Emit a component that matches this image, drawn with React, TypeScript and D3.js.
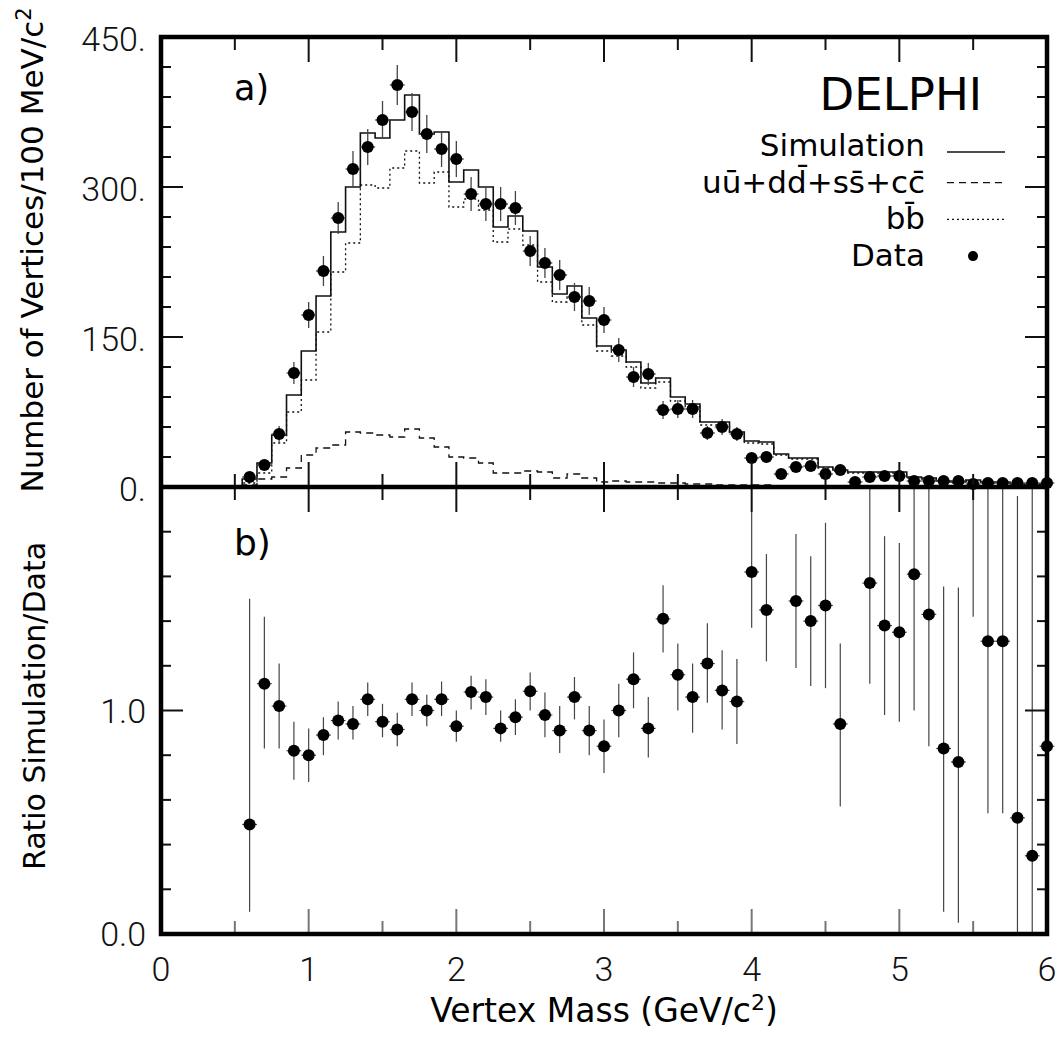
import * as d3 from 'd3';
import React from 'react';

// bin centres (GeV/c^2), bin width 0.1
const massBins = [
  0.6, 0.7, 0.8, 0.9, 1.0, 1.1, 1.2, 1.3, 1.4, 1.5, 1.6, 1.7, 1.8, 1.9, 2.0,
  2.1, 2.2, 2.3, 2.4, 2.5, 2.6, 2.7, 2.8, 2.9, 3.0, 3.1, 3.2, 3.3, 3.4, 3.5,
  3.6, 3.7, 3.8, 3.9, 4.0, 4.1, 4.2, 4.3, 4.4, 4.5, 4.6, 4.7, 4.8, 4.9, 5.0,
  5.1, 5.2, 5.3, 5.4, 5.5, 5.6, 5.7, 5.8, 5.9, 6.0,
];

const dataCounts = [
  10, 22, 53, 114, 172, 216, 269, 318, 340, 367, 402, 375, 353, 338, 328,
  293, 283, 283, 279, 236, 224, 212, 190, 186, 167, 137, 110, 113, 77, 78,
  78, 54, 60, 53, 29, 30, 13, 20, 21, 13, 17, 5, 10, 11, 11,
  6, 6, 6, 6, 3, 4, 4, 4, 4, 4,
];

const dataErrors = [
  4, 5, 8, 11, 13, 15, 16, 18, 18, 19, 20, 19, 19, 18, 18,
  17, 17, 17, 17, 15, 15, 15, 14, 14, 13, 12, 10, 11, 9, 9,
  9, 7, 8, 7, 5, 5, 4, 4, 5, 4, 4, 2, 3, 3, 3,
  2, 2, 2, 2, 2, 2, 2, 2, 2, 2,
];

const simulation = [
  8, 24, 52, 92, 136, 191, 255, 300, 354, 349, 367, 392, 353, 355, 305,
  317, 300, 260, 271, 256, 220, 193, 201, 169, 141, 137, 125, 104, 109, 90,
  83, 65, 65, 55, 46, 45, 33, 29, 29, 20, 17, 15, 15, 15, 15,
  10, 9, 6, 5, 7, 5, 5, 3, 2, 3,
];

const udscSim = [
  2, 8, 10, 19, 32, 39, 42, 55, 54, 52, 50, 58, 49, 40, 30,
  29, 24, 14, 14, 16, 15, 9, 13, 9, 5, 6, 5, 5, 4, 4,
  3, 3, 2, 2, 2, 2, 1, 1, 1, 1, 1, 1, 1, 1, 1,
  1, 1, 0, 0, 0, 0, 0, 0, 0, 0,
];

const bbSim = [
  4, 14, 44, 75, 107, 155, 215, 244, 302, 299, 319, 336, 304, 315, 280,
  288, 277, 245, 258, 242, 205, 185, 190, 162, 136, 131, 120, 99, 105, 86,
  80, 62, 62, 53, 44, 43, 32, 28, 28, 19, 16, 14, 14, 14, 14,
  9, 8, 5, 4, 6, 4, 4, 2, 2, 3,
];

const ratio = [
  0.49, 1.12, 1.02, 0.82, 0.8, 0.89, 0.955, 0.94, 1.05, 0.95, 0.915, 1.05, 1.0, 1.05, 0.93,
  1.083, 1.06, 0.92, 0.97, 1.086, 0.98, 0.91, 1.06, 0.91, 0.84, 1.0, 1.14, 0.92, 1.41, 1.16,
  1.06, 1.21, 1.09, 1.04, 1.62, 1.45, 2.54, 1.49, 1.4, 1.47, 0.94, 3.0, 1.57, 1.38, 1.35,
  1.61, 1.43, 0.83, 0.77, 2.33, 1.31, 1.31, 0.52, 0.35, 0.84,
];

const ratioLow = [
  0.1, 0.83, 0.83, 0.69, 0.68, 0.8, 0.87, 0.87, 0.975, 0.88, 0.84, 0.975, 0.93, 0.975, 0.86,
  1.005, 0.98, 0.86, 0.89, 1.0, 0.88, 0.81, 0.96, 0.8, 0.72, 0.88, 1.01, 0.79, 1.26, 1.0,
  0.9, 1.035, 0.915, 0.85, 1.37, 1.22, 2.05, 1.19, 1.11, 1.1, 0.57, 2.05, 1.12, 0.98, 0.95,
  1.0, 0.84, 0.1, 0.05, 1.42, 0.54, 0.54, 0.0, 0.0, 0.0,
];

const ratioHigh = [
  1.5, 1.42, 1.21, 0.95, 0.92, 0.97, 1.04, 1.02, 1.125, 1.03, 0.99, 1.125, 1.07, 1.13, 1.0,
  1.156, 1.14, 1.0, 1.05, 1.17, 1.08, 1.02, 1.15, 1.02, 0.96, 1.12, 1.26, 1.06, 1.56, 1.3,
  1.21, 1.39, 1.27, 1.23, 1.89, 1.7, 3.0, 1.79, 1.69, 1.84, 1.3, 4.0, 2.2, 1.78, 1.75,
  2.3, 2.1, 1.555, 1.55, 3.2, 2.3, 2.3, 1.96, 2.2, 2.2,
];

const massTicks = [0, 1, 2, 3, 4, 5, 6];
const countTicks = [0, 150, 300, 450];
const countTickLabels = ['0.', '150.', '300.', '450.'];
const ratioTicks = [0, 1];
const ratioTickLabels = ['0.0', '1.0'];

const legendItems = [
  { label: 'Simulation', kind: 'solid' },
  { label: 'u\u016B+dd\u0304+ss\u0304+cc\u0304', kind: 'dashed' },
  { label: 'bb\u0304', kind: 'dotted' },
  { label: 'Data', kind: 'dot' },
];

const left = 161;
const right = 1047;
const top = 37;
const mid = 487;
const bottom = 934;
const halfBin = 0.05;

const labelFont = 'Roboto, "DejaVu Sans", sans-serif';
const titleFont = '"DejaVu Sans", sans-serif';

export default function App() {
  const x = d3.scaleLinear().domain([0, 6]).range([left, right]);
  const yTop = d3.scaleLinear().domain([0, 450]).range([mid, top]);
  const yBot = d3.scaleLinear().domain([0, 2]).range([bottom, mid]);

  function stepPath(vals: number[]) {
    const pts: [number, number][] = [[massBins[0] - halfBin, 0]];
    vals.forEach((v, i) => {
      pts.push([massBins[i] - halfBin, v]);
      pts.push([massBins[i] + halfBin, v]);
    });
    return (
      d3
        .line<[number, number]>()
        .x((d) => x(d[0]))
        .y((d) => yTop(d[1]))(pts) || ''
    );
  }

  const xMinor = d3.range(0, 6.01, 0.5);
  const yTopMinor = d3.range(0, 451, 30);
  const yBotMinor = d3.range(0, 2.01, 0.2);

  const tickColor = '#111';
  const errColor = '#444';

  // x ticks on a horizontal line, dir = +1 pointing down, -1 up
  function xTickMarks(yLine: number, dir: number, key: string, color = tickColor) {
    return xMinor.map((m, i) => {
      const major = Math.abs(m - Math.round(m)) < 1e-6;
      const len = major ? 25 : 13;
      return (
        <line
          key={key + i}
          x1={x(m)}
          x2={x(m)}
          y1={yLine}
          y2={yLine + dir * len}
          stroke={color}
          strokeWidth={2}
        />
      );
    });
  }

  return (
    <svg
      width={1062}
      height={1037}
      style={{ position: 'absolute', left: 0, top: 0, background: '#fff' }}
    >
      <defs>
        <clipPath id='clipTop'>
          <rect x={left} y={top} width={right - left} height={mid - top} />
        </clipPath>
        <clipPath id='clipBot'>
          <rect x={left - 10} y={mid} width={right - left + 20} height={bottom - mid} />
        </clipPath>
      </defs>

      {/* upper panel: histograms */}
      <g clipPath='url(#clipTop)' fill='none' stroke='#111'>
        <path d={stepPath(simulation)} strokeWidth={1.6} />
        <path d={stepPath(udscSim)} strokeWidth={1.3} strokeDasharray='7,5' />
        <path d={stepPath(bbSim)} strokeWidth={1.3} strokeDasharray='2,3' />
      </g>

      {/* upper panel: data */}
      <g>
        {massBins.map((m, i) => (
          <g key={'d' + i}>
            <line
              x1={x(m)}
              x2={x(m)}
              y1={yTop(dataCounts[i] - dataErrors[i])}
              y2={yTop(dataCounts[i] + dataErrors[i])}
              stroke={errColor}
              strokeWidth={1.3}
            />
            <line
              x1={x(m - halfBin)}
              x2={x(m + halfBin)}
              y1={yTop(dataCounts[i])}
              y2={yTop(dataCounts[i])}
              stroke={errColor}
              strokeWidth={1.3}
            />
            <circle cx={x(m)} cy={yTop(dataCounts[i])} r={6} fill='#000' />
          </g>
        ))}
      </g>

      {/* lower panel: ratio */}
      <g clipPath='url(#clipBot)'>
        {massBins.map((m, i) => (
          <g key={'r' + i}>
            <line
              x1={x(m)}
              x2={x(m)}
              y1={yBot(ratioLow[i])}
              y2={yBot(ratioHigh[i])}
              stroke={errColor}
              strokeWidth={1.2}
            />
            <line
              x1={x(m - halfBin)}
              x2={x(m + halfBin)}
              y1={yBot(ratio[i])}
              y2={yBot(ratio[i])}
              stroke={errColor}
              strokeWidth={1.2}
            />
            <circle cx={x(m)} cy={yBot(ratio[i])} r={6} fill='#000' />
          </g>
        ))}
      </g>

      {/* ticks */}
      {xTickMarks(top, 1, 'tt')}
      {xTickMarks(mid, -1, 'mu')}
      {xTickMarks(mid, 1, 'md')}
      {xTickMarks(bottom, -1, 'bb', '#777')}
      {yTopMinor.map((v, i) => {
        const len = v % 150 === 0 ? 22 : 10;
        return (
          <g key={'yt' + i}>
            <line x1={left} x2={left + len} y1={yTop(v)} y2={yTop(v)} stroke={tickColor} strokeWidth={2} />
            <line x1={right} x2={right - len} y1={yTop(v)} y2={yTop(v)} stroke={tickColor} strokeWidth={2} />
          </g>
        );
      })}
      {yBotMinor.map((v, i) => {
        const len = Math.abs(v - Math.round(v)) < 1e-6 ? 22 : 10;
        return (
          <g key={'yb' + i}>
            <line x1={left} x2={left + len} y1={yBot(v)} y2={yBot(v)} stroke={tickColor} strokeWidth={2} />
            <line x1={right} x2={right - len} y1={yBot(v)} y2={yBot(v)} stroke={tickColor} strokeWidth={2} />
          </g>
        );
      })}

      {/* frame */}
      <rect
        x={left}
        y={top}
        width={right - left}
        height={bottom - top}
        fill='none'
        stroke='#000'
        strokeWidth={4.5}
      />
      <line x1={left} x2={right} y1={mid} y2={mid} stroke='#000' strokeWidth={4.5} />

      {/* tick labels */}
      <g fontFamily={labelFont} fontWeight={300} fontSize={34} fill='#111'>
        {countTicks.map((v, i) => (
          <text key={'ct' + i} x={146} y={yTop(v) + 2} textAnchor='end' dominantBaseline='central'>
            {countTickLabels[i]}
          </text>
        ))}
        {ratioTicks.map((v, i) => (
          <text key={'rt' + i} x={146} y={yBot(v)} textAnchor='end' dominantBaseline='central'>
            {ratioTickLabels[i]}
          </text>
        ))}
        {massTicks.map((v) => (
          <text key={'mt' + v} x={x(v)} y={969} textAnchor='middle' dominantBaseline='central'>
            {v}
          </text>
        ))}
      </g>

      {/* axis titles */}
      <g fontFamily={titleFont} fill='#000'>
        <text transform='translate(43,250) rotate(-90)' textAnchor='middle' fontSize={31}>
          Number of Vertices/100 MeV/c<tspan dy={-12} fontSize={21}>2</tspan>
        </text>
        <text transform='translate(45,706) rotate(-90)' textAnchor='middle' fontSize={30}>
          Ratio Simulation/Data
        </text>
        <text x={x(3)} y={1022} textAnchor='middle' fontSize={33}>
          Vertex Mass (GeV/c<tspan dy={-12} fontSize={22}>2</tspan>
          <tspan dy={12}>)</tspan>
        </text>
      </g>

      {/* panel labels */}
      <g fontFamily={titleFont} fill='#000'>
        <text x={234} y={100} fontSize={35}>a)</text>
        <text x={234} y={555} fontSize={36}>b)</text>
        <text x={982} y={110} fontSize={45} textAnchor='end'>DELPHI</text>
      </g>

      {/* legend */}
      <g fontFamily={titleFont} fontSize={31} fill='#000'>
        {legendItems.map((item, i) => {
          const base = 156 + i * 36.7;
          const ly = base - 4;
          return (
            <g key={'lg' + i}>
              <text x={925} y={base} textAnchor='end'>
                {item.label}
              </text>
              {item.kind === 'dot' ? (
                <circle cx={973} cy={ly - 6} r={5} fill='#000' />
              ) : (
                <line
                  x1={947}
                  x2={1005}
                  y1={ly - (item.kind === 'solid' ? 0 : 6)}
                  y2={ly - (item.kind === 'solid' ? 0 : 6)}
                  stroke='#111'
                  strokeWidth={1.3}
                  strokeDasharray={item.kind === 'dashed' ? '7,5' : item.kind === 'dotted' ? '2,3' : undefined}
                />
              )}
            </g>
          );
        })}
      </g>
    </svg>
  );
}
